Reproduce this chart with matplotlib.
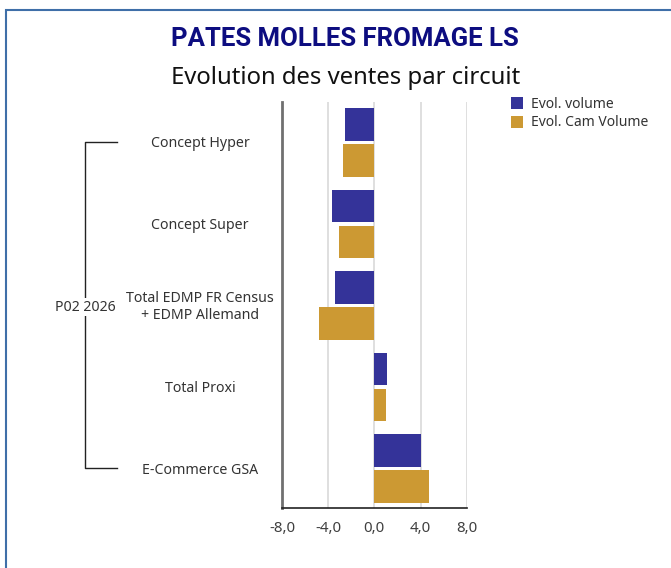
import numpy as np
import matplotlib
matplotlib.use("Agg")
import matplotlib.pyplot as plt
import matplotlib.patches as mpatches
from matplotlib.transforms import blended_transform_factory

plt.rcParams["font.family"] = ["Noto Sans", "DejaVu Sans"]

# --- données ---
categories = ["Concept Hyper", "Concept Super",
              "Total EDMP FR Census\n+ EDMP Allemand", "Total Proxi", "E-Commerce GSA"]
evol_volume = [-2.5, -3.7, -3.4, 1.1, 4.0]
evol_cam_volume = [-2.7, -3.1, -4.8, 1.0, 4.7]
xticks = [-8, -4, 0, 4, 8]
series_names = ["Evol. volume", "Evol. Cam Volume"]
group_label = "P02 2026"

BLUE = "#343399"
GOLD = "#CC9933"
W, H = 671, 568

fig = plt.figure(figsize=(W / 100, H / 100), dpi=100)
fig.patch.set_facecolor("white")

# cadre bleu
fig.add_artist(mpatches.Rectangle((6 / W, -0.1), 1.2, 1 - 10 / H + 0.1,
                                  transform=fig.transFigure, fill=False,
                                  edgecolor="#3F6FA8", linewidth=1.5))

ax = fig.add_axes([282 / W, 1 - 508 / H, 184.7 / W, 406 / H])

y = np.arange(len(categories))
off, h = 0.221, 0.40
ax.barh(y - off, evol_volume, height=h, color=BLUE, zorder=3)
ax.barh(y + off, evol_cam_volume, height=h, color=GOLD, zorder=3)

ax.set_xlim(-8, 8)
ax.set_ylim(4.485, -0.495)
ax.set_xticks(xticks)
ax.set_xticklabels([f"{v:.1f}".replace(".", ",") for v in xticks],
                   fontsize=10.8, color="#404040")
ax.tick_params(axis="x", length=0, pad=9)
ax.set_yticks([])
ax.xaxis.grid(True, color="#D9D9D9", linewidth=1.2, zorder=0)
ax.set_axisbelow(True)
for s in ["top", "right"]:
    ax.spines[s].set_visible(False)
ax.spines["left"].set_color("#707070")
ax.spines["left"].set_linewidth(2)
ax.spines["bottom"].set_color("#222222")
ax.spines["bottom"].set_linewidth(1.2)

# libellés des catégories
tr = blended_transform_factory(fig.transFigure, ax.transData)
for yi, lab in zip(y, categories):
    ax.text(200 / W, yi + 0.02, lab, transform=tr, ha="center", va="center",
            fontsize=10.2, color="#333333", linespacing=1.25)

# accolade du groupe
bx, bx2 = 85 / W, 117 / W
ax.plot([bx2, bx, bx, bx2], [0, 0, 4, 4], transform=tr, color="#222222",
        linewidth=1, clip_on=False)
ax.text(bx, 2.02, group_label, transform=tr, ha="center", va="center",
        fontsize=10.2, color="#333333",
        bbox=dict(facecolor="white", edgecolor="none", pad=1))

# titres
fig.text(345 / W, 1 - 39 / H, "PATES MOLLES FROMAGE LS", ha="center", va="center",
         fontsize=18.5, fontweight="bold", color="#0D0D80", family="Roboto")
fig.text(346 / W, 1 - 78 / H, "Evolution des ventes par circuit", ha="center",
         va="center", fontsize=17.2, color="#111111")

# légende
for i, (name, col) in enumerate(zip(series_names, [BLUE, GOLD])):
    yc = 103 + i * 19
    fig.add_artist(mpatches.Rectangle((511 / W, 1 - (yc + 6) / H), 12 / W, 12 / H,
                                      transform=fig.transFigure, facecolor=col,
                                      edgecolor="none"))
    fig.text(531 / W, 1 - (yc + 1) / H, name, ha="left", va="center",
             fontsize=10, color="#333333")

fig.savefig("out.png", dpi=100)
